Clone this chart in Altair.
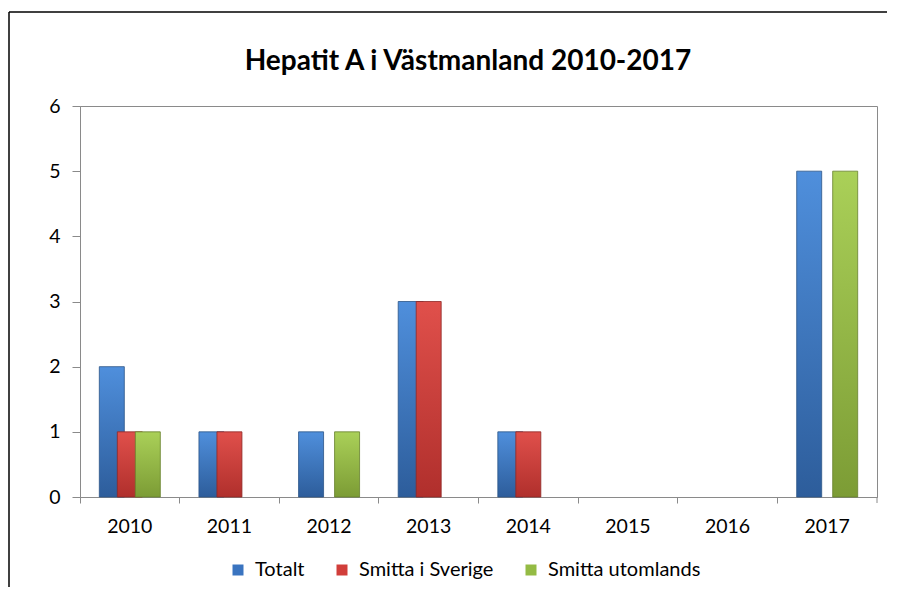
import altair as alt
import pandas as pd

years = ["2010", "2011", "2012", "2013", "2014", "2015", "2016", "2017"]
series = ["Totalt", "Smitta i Sverige", "Smitta utomlands"]
totalt = [2, 1, 1, 3, 1, 0, 0, 5]
sverige = [1, 1, 0, 3, 1, 0, 0, 0]
utomlands = [1, 0, 1, 0, 0, 0, 0, 5]
title_text = "Hepatit A i Västmanland 2010-2017"

flat_colors = ["#3a74c0", "#d13e3a", "#94bb44"]
grads = [("#4f8fdc", "#2d5d9b", "#2b5487"),
         ("#e0504b", "#b02f2c", "#8e2725"),
         ("#aad058", "#7c9c35", "#66802c")]
offsets = [-18, 0, 18]

rows = []
for s, vals in zip(series, [totalt, sverige, utomlands]):
    for y, v in zip(years, vals):
        rows.append({"year": y, "series": s, "value": v})
df = pd.DataFrame(rows)

W, H = 797, 391
FONT = "Lato"

x_enc = alt.X("year:O", sort=years, title=None,
              scale=alt.Scale(paddingInner=0, paddingOuter=0),
              axis=alt.Axis(labelAngle=0, bandPosition=0, tickSize=6,
                            labelPadding=14, labelFont=FONT, labelFontSize=19.5,
                            labelColor="#000000", domainColor="#8a8a8a",
                            tickColor="#8a8a8a", grid=False))
y_enc = alt.Y("value:Q", title=None,
              scale=alt.Scale(domain=[0, 6], nice=False),
              axis=alt.Axis(values=[0, 1, 2, 3, 4, 5, 6], tickSize=8,
                            labelPadding=12, labelFont=FONT, labelFontSize=19.5,
                            labelColor="#000000", domainColor="#8a8a8a",
                            tickColor="#8a8a8a", gridColor="#8a8a8a",
                            format="d"))

base = alt.Chart(df)

layers = []
# legend-carrier layer (zero-size bars)
legend_layer = base.mark_bar(width=0, strokeWidth=0).encode(
    x=x_enc,
    y=alt.datum(0),
    color=alt.Color("series:N", sort=series,
                    scale=alt.Scale(domain=series, range=flat_colors),
                    legend=alt.Legend(orient="none", direction="horizontal",
                                      legendX=148, legendY=454, title=None,
                                      symbolType="square", symbolSize=121,
                                      labelFont=FONT, labelFontSize=20,
                                      labelColor="#000000",
                                      columnPadding=27, labelOffset=7)),
)
layers.append(legend_layer)

for s, (c1, c2, cs), off in zip(series, grads, offsets):
    lay = base.transform_filter(
        (alt.datum.series == s) & (alt.datum.value > 0)
    ).mark_bar(
        width=25, xOffset=off,
        fill=alt.Gradient(gradient="linear", x1=0, x2=0, y1=0, y2=1,
                          stops=[alt.GradientStop(color=c1, offset=0),
                                 alt.GradientStop(color=c2, offset=1)]),
        stroke=cs, strokeWidth=0.8,
    ).encode(x=x_enc, y=y_enc)
    layers.append(lay)

one = pd.DataFrame({"t": [title_text]})
title_layer = alt.Chart(one).mark_text(
    font=FONT, fontSize=28, fontWeight="bold", color="#000000",
    align="center", baseline="alphabetic"
).encode(x=alt.value(388), y=alt.value(-36), text="t:N")

# decorative elements: outer chart frame and final x tick
frame_left = alt.Chart(one).mark_rule(color="#000000", strokeWidth=1.5).encode(
    x=alt.value(-71), y=alt.value(-94), y2=alt.value(500))
frame_top = alt.Chart(one).mark_rule(color="#000000", strokeWidth=1.5).encode(
    x=alt.value(-71), x2=alt.value(900), y=alt.value(-94))
last_tick = alt.Chart(one).mark_rule(color="#8a8a8a", strokeWidth=1).encode(
    x=alt.value(W), y=alt.value(H), y2=alt.value(H + 6))

chart = alt.layer(*layers, title_layer, frame_left, frame_top, last_tick).properties(
    width=W, height=H,
    autosize=alt.AutoSizeParams(type="none"),
    padding={"left": 72, "top": 98, "right": 10, "bottom": 90},
).configure_view(stroke="#8a8a8a", strokeWidth=1).configure_axis(
    gridWidth=1
)

chart.save("out.html", embed_options={"renderer": "svg", "actions": False})
